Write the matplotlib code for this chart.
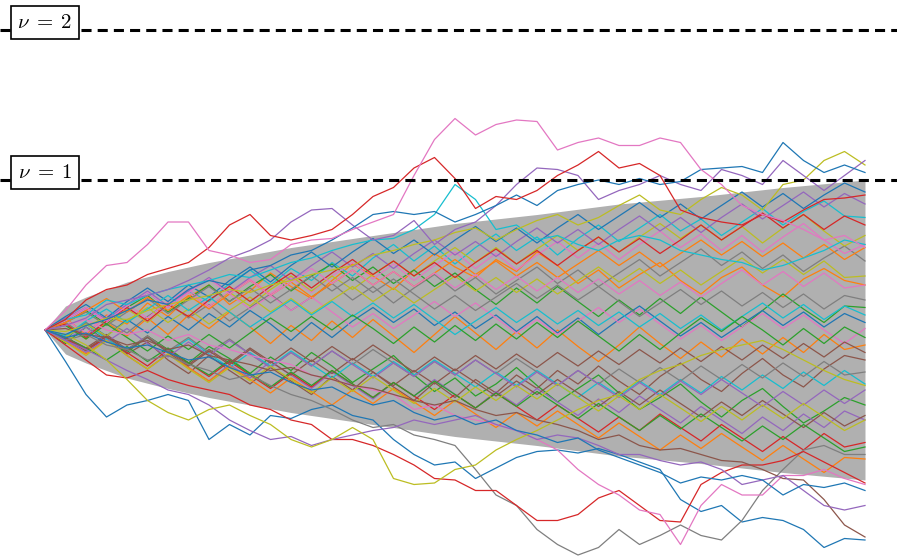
import numpy as np
import matplotlib
matplotlib.use("Agg")
import matplotlib.pyplot as plt

plt.rcParams['mathtext.fontset'] = 'cm'

# sample times of the paths (41 samples on [0, 1])
t = np.arange(41) / 40

# grey band
cone_t = [0, 0.025, 0.05, 0.1, 0.15, 0.2, 0.3, 0.4, 0.5, 0.6, 0.7, 0.8, 0.9, 1.0]
cone_half = [0, 0.16, 0.22, 0.32, 0.39, 0.45, 0.55, 0.63, 0.71, 0.77, 0.84, 0.89, 0.95, 1.0]

levels = [1, 2]
level_labels = [r'$\nu \;=\; 1$', r'$\nu \;=\; 2$']

# outer paths
pink_top = [0, 0.13, 0.30, 0.43, 0.45, 0.57, 0.72, 0.72, 0.53, 0.50, 0.45, 0.47, 0.57, 0.60, 0.61, 0.67, 0.72, 0.77, 1.03, 1.27, 1.41,
            1.30, 1.37, 1.40, 1.39, 1.20, 1.25, 1.28, 1.23, 1.23, 1.28, 1.25, 1.07, 0.97, 0.83, 0.77, 0.73, 0.67, 0.60, 0.63, 0.55]
red_upper = [0, 0.07, 0.20, 0.27, 0.30, 0.37, 0.41, 0.45, 0.55, 0.70, 0.77, 0.63, 0.60, 0.63, 0.67, 0.77, 0.89, 0.95, 1.08, 1.15, 1.01,
             0.81, 0.89, 0.87, 0.93, 1.03, 1.10, 1.19, 1.08, 1.11, 1.03, 0.80, 0.75, 0.72, 0.70, 0.77, 0.72, 0.80, 0.87, 0.88, 0.90]
blue_upper = [0, -0.03, 0.03, 0.07, 0.13, 0.20, 0.17, 0.27, 0.33, 0.30, 0.40, 0.43, 0.50, 0.53, 0.60, 0.68, 0.77, 0.79, 0.77, 0.79, 0.72,
              0.77, 0.83, 0.90, 0.83, 0.93, 0.97, 1.00, 0.97, 1.01, 0.97, 0.99, 1.07, 1.08, 1.09, 1.05, 1.25, 1.13, 1.05, 1.10, 1.05]
purple_upper = [0, 0.03, 0.08, 0.17, 0.20, 0.23, 0.27, 0.33, 0.40, 0.48, 0.53, 0.60, 0.72, 0.80, 0.81, 0.70, 0.60, 0.63, 0.73, 0.57, 0.67,
                0.72, 0.83, 0.97, 1.08, 1.07, 1.03, 0.87, 0.93, 0.97, 1.03, 0.97, 0.93, 1.07, 1.03, 0.97, 1.13, 1.03, 0.93, 1.03, 1.13]
olive_upper = [0, -0.01, 0.03, 0.08, 0.07, 0.13, 0.17, 0.20, 0.23, 0.27, 0.25, 0.30, 0.33, 0.37, 0.40, 0.43, 0.50, 0.53, 0.57, 0.60, 0.65,
               0.68, 0.60, 0.67, 0.73, 0.77, 0.70, 0.75, 0.83, 0.90, 0.80, 0.77, 0.87, 0.95, 0.90, 0.80, 0.97, 1.00, 1.13, 1.19, 1.10]
cyan_upper = [0, 0.07, 0.10, 0.20, 0.17, 0.23, 0.27, 0.30, 0.33, 0.37, 0.35, 0.40, 0.45, 0.48, 0.53, 0.57, 0.60, 0.61, 0.67, 0.77, 0.97,
              0.87, 0.67, 0.70, 0.60, 0.63, 0.57, 0.53, 0.60, 0.63, 0.60, 0.53, 0.50, 0.47, 0.45, 0.40, 0.43, 0.48, 0.53, 0.60, 0.57]
blue_lower = [0, -0.21, -0.43, -0.58, -0.50, -0.47, -0.43, -0.47, -0.73, -0.63, -0.70, -0.57, -0.59, -0.53, -0.50, -0.57, -0.60, -0.73, -0.83, -0.90, -0.88,
              -0.99, -0.92, -0.85, -0.81, -0.80, -0.82, -0.79, -0.83, -0.88, -0.93, -1.13, -1.21, -1.17, -1.28, -1.25, -1.27, -1.33, -1.45, -1.39, -1.40]
gray_lower = [0, -0.07, -0.03, -0.10, -0.13, -0.20, -0.17, -0.23, -0.27, -0.33, -0.30, -0.37, -0.43, -0.47, -0.53, -0.60, -0.65, -0.63, -0.70, -0.73, -0.77,
              -0.93, -1.10, -1.17, -1.33, -1.43, -1.50, -1.45, -1.33, -1.43, -1.37, -1.30, -1.37, -1.40, -1.27, -1.07, -0.93, -0.80, -0.77, -0.83, -0.83]
red_lower = [0, -0.10, -0.20, -0.30, -0.32, -0.27, -0.33, -0.37, -0.40, -0.43, -0.50, -0.53, -0.60, -0.63, -0.73, -0.73, -0.77, -0.83, -0.90, -0.99, -1.00,
             -1.07, -1.07, -1.17, -1.27, -1.27, -1.23, -1.12, -1.07, -1.17, -1.27, -1.28, -1.03, -0.95, -0.90, -0.90, -0.87, -0.81, -0.88, -0.95, -1.02]
pink_lower = [0, 0.03, 0.07, 0, -0.03, 0, -0.07, -0.03, -0.10, -0.13, -0.17, -0.20, -0.23, -0.30, -0.33, -0.37, -0.40, -0.43, -0.53, -0.50, -0.57,
              -0.60, -0.63, -0.67, -0.73, -0.80, -0.93, -1.03, -1.10, -1.20, -1.23, -1.43, -1.17, -1.03, -1.10, -1.10, -0.97, -0.97, -0.93, -0.99, -1.03]
brown_lower = [0, 0.01, -0.03, -0.05, -0.10, -0.07, -0.13, -0.10, -0.17, -0.20, -0.23, -0.27, -0.25, -0.30, -0.33, -0.37, -0.39, -0.43, -0.47, -0.50, -0.47,
               -0.53, -0.57, -0.55, -0.60, -0.63, -0.67, -0.73, -0.70, -0.77, -0.80, -0.79, -0.83, -0.87, -0.88, -0.93, -0.99, -1.00, -1.13, -1.30, -1.38]
purple_lower = [0, -0.07, -0.13, -0.20, -0.27, -0.33, -0.40, -0.43, -0.50, -0.60, -0.67, -0.73, -0.71, -0.77, -0.73, -0.70, -0.67, -0.65, -0.60, -0.63, -0.60,
                -0.57, -0.63, -0.67, -0.73, -0.70, -0.72, -0.77, -0.83, -0.83, -0.87, -0.90, -0.88, -0.93, -1.03, -1.00, -0.97, -1.07, -1.17, -1.20, -1.17]
olive_lower = [0, -0.03, -0.10, -0.20, -0.33, -0.47, -0.55, -0.60, -0.53, -0.50, -0.57, -0.63, -0.73, -0.78, -0.73, -0.65, -0.73, -0.99, -1.03, -1.02, -0.93,
               -0.90, -0.80, -0.73, -0.67, -0.60, -0.53, -0.47, -0.43, -0.33, -0.27, -0.23, -0.17, -0.13, -0.10, -0.07, -0.13, -0.20, -0.27, -0.33, -0.37]
blue_end = [0, -0.05, -0.02, -0.08, -0.12, -0.10, -0.15, -0.20, -0.18, -0.25, -0.30, -0.28, -0.35, -0.40, -0.38, -0.45, -0.50, -0.47, -0.55, -0.60, -0.57,
            -0.63, -0.60, -0.67, -0.70, -0.75, -0.72, -0.80, -0.85, -0.90, -0.95, -1.02, -0.98, -1.00, -0.97, -1.00, -1.10, -1.03, -1.05, -1.02, -1.07]

# paths inside the grey band (estimated)
inner_paths = [
    [0, 0.08, -0.03, 0.10, 0.04, 0.18, 0.09, 0.22, 0.30, 0.17, 0.26, 0.38, 0.29, 0.21, 0.33, 0.44, 0.36, 0.27, 0.40, 0.51, 0.42,
     0.35, 0.47, 0.39, 0.52, 0.43, 0.31, 0.40, 0.28, 0.37, 0.45, 0.33, 0.24, 0.35, 0.42, 0.30, 0.22, 0.34, 0.41, 0.33, 0.30],
    [0, -0.09, 0.02, -0.07, -0.15, -0.04, -0.13, -0.22, -0.11, -0.19, -0.29, -0.18, -0.27, -0.15, -0.24, -0.35, -0.26, -0.17, -0.30, -0.41, -0.32,
     -0.44, -0.36, -0.25, -0.37, -0.48, -0.39, -0.30, -0.42, -0.53, -0.45, -0.36, -0.48, -0.58, -0.47, -0.39, -0.51, -0.62, -0.54, -0.45, -0.50],
    [0, 0.07, 0.14, 0.05, 0.16, 0.25, 0.15, 0.26, 0.19, 0.31, 0.40, 0.30, 0.41, 0.33, 0.45, 0.36, 0.48, 0.57, 0.46, 0.56, 0.44,
     0.55, 0.64, 0.53, 0.62, 0.50, 0.61, 0.70, 0.59, 0.68, 0.77, 0.66, 0.74, 0.63, 0.72, 0.81, 0.70, 0.79, 0.86, 0.76, 0.75],
    [0, -0.06, -0.14, -0.05, -0.16, -0.08, -0.20, -0.29, -0.17, -0.27, -0.36, -0.25, -0.34, -0.43, -0.31, -0.40, -0.28, -0.38, -0.47, -0.35, -0.45,
     -0.33, -0.42, -0.30, -0.39, -0.27, -0.36, -0.24, -0.34, -0.43, -0.31, -0.22, -0.33, -0.41, -0.29, -0.19, -0.30, -0.38, -0.26, -0.17, -0.20],
    [0, 0.05, -0.04, 0.06, -0.02, 0.09, 0.18, 0.08, 0.17, 0.06, 0.15, 0.24, 0.13, 0.22, 0.31, 0.20, 0.29, 0.18, 0.28, 0.37, 0.26,
     0.35, 0.24, 0.33, 0.42, 0.31, 0.40, 0.29, 0.38, 0.47, 0.36, 0.45, 0.54, 0.43, 0.52, 0.41, 0.50, 0.39, 0.48, 0.56, 0.46],
    [0, -0.07, -0.15, -0.06, -0.17, -0.26, -0.16, -0.25, -0.34, -0.23, -0.32, -0.21, -0.30, -0.39, -0.28, -0.37, -0.46, -0.35, -0.44, -0.33, -0.43,
     -0.52, -0.41, -0.50, -0.39, -0.48, -0.57, -0.46, -0.55, -0.44, -0.53, -0.62, -0.51, -0.60, -0.69, -0.58, -0.67, -0.56, -0.65, -0.54, -0.60],
    [0, 0.04, -0.06, 0.05, -0.04, 0.08, -0.03, 0.10, 0.01, 0.12, 0.02, -0.09, 0.03, -0.07, 0.06, -0.05, 0.07, -0.04, -0.15, -0.03, 0.09,
     -0.02, -0.13, -0.01, -0.12, 0.00, -0.11, -0.21, -0.10, 0.02, -0.09, -0.19, -0.08, -0.18, -0.06, -0.16, -0.05, -0.15, -0.03, -0.13, -0.10],
    [0, 0.06, 0.13, 0.04, 0.15, 0.23, 0.12, 0.21, 0.30, 0.19, 0.29, 0.37, 0.26, 0.36, 0.44, 0.33, 0.42, 0.31, 0.40, 0.29, 0.38,
     0.27, 0.17, 0.28, 0.18, 0.29, 0.19, 0.09, 0.20, 0.10, 0.21, 0.11, 0.22, 0.12, 0.02, 0.13, 0.24, 0.14, 0.05, 0.16, 0.15],
    [0, 0.07, -0.02, 0.09, 0.17, 0.08, 0.19, 0.27, 0.16, 0.26, 0.34, 0.24, 0.35, 0.25, 0.36, 0.45, 0.34, 0.44, 0.33, 0.43, 0.52,
     0.41, 0.51, 0.40, 0.50, 0.59, 0.48, 0.58, 0.47, 0.57, 0.66, 0.55, 0.64, 0.53, 0.63, 0.52, 0.62, 0.71, 0.60, 0.51, 0.57],
    [0, -0.06, -0.13, -0.05, -0.15, -0.24, -0.13, -0.22, -0.31, -0.21, -0.30, -0.39, -0.29, -0.38, -0.27, -0.36, -0.45, -0.35, -0.44, -0.53, -0.43,
     -0.52, -0.42, -0.51, -0.60, -0.50, -0.59, -0.68, -0.58, -0.67, -0.56, -0.65, -0.74, -0.63, -0.72, -0.81, -0.71, -0.80, -0.69, -0.78, -0.75],
    [0, 0.05, 0.12, 0.03, 0.14, 0.05, 0.16, 0.25, 0.15, 0.25, 0.16, 0.27, 0.36, 0.26, 0.36, 0.27, 0.37, 0.46, 0.36, 0.46, 0.55,
     0.45, 0.55, 0.44, 0.54, 0.63, 0.53, 0.62, 0.52, 0.62, 0.71, 0.61, 0.70, 0.60, 0.69, 0.58, 0.68, 0.77, 0.66, 0.56, 0.63],
    [0, -0.05, 0.04, -0.06, -0.14, -0.05, -0.15, -0.06, -0.16, -0.25, -0.15, -0.24, -0.14, -0.23, -0.32, -0.22, -0.31, -0.21, -0.30, -0.20, -0.29,
     -0.38, -0.28, -0.37, -0.27, -0.36, -0.45, -0.35, -0.44, -0.34, -0.43, -0.33, -0.42, -0.31, -0.40, -0.30, -0.39, -0.28, -0.37, -0.27, -0.36],
    [0, -0.06, 0.05, -0.04, 0.07, -0.02, 0.09, 0.00, 0.11, 0.02, 0.13, 0.04, -0.07, 0.05, -0.05, 0.06, 0.15, 0.05, 0.14, 0.03, 0.12,
     0.01, 0.10, -0.01, 0.09, -0.02, 0.08, -0.03, 0.07, 0.16, 0.06, -0.04, 0.05, -0.05, 0.04, 0.13, 0.03, 0.12, 0.02, 0.11, 0.05],
    [0, -0.05, -0.12, -0.03, -0.13, -0.04, -0.14, -0.23, -0.13, -0.22, -0.12, -0.21, -0.30, -0.20, -0.29, -0.19, -0.28, -0.37, -0.27, -0.36, -0.26,
     -0.35, -0.44, -0.34, -0.43, -0.33, -0.42, -0.51, -0.41, -0.50, -0.40, -0.49, -0.58, -0.48, -0.57, -0.47, -0.56, -0.65, -0.55, -0.64, -0.57],
    [0, 0.08, 0.15, 0.07, 0.17, 0.26, 0.16, 0.26, 0.35, 0.25, 0.35, 0.43, 0.33, 0.43, 0.52, 0.42, 0.51, 0.41, 0.51, 0.60, 0.50,
     0.59, 0.49, 0.59, 0.68, 0.58, 0.67, 0.57, 0.67, 0.76, 0.66, 0.75, 0.65, 0.75, 0.84, 0.74, 0.83, 0.92, 0.82, 0.91, 0.84],
    [0, -0.04, 0.05, -0.05, -0.13, -0.04, -0.14, -0.05, -0.15, -0.06, -0.16, -0.25, -0.15, -0.24, -0.14, -0.23, -0.13, -0.22, -0.31, -0.21, -0.30,
     -0.20, -0.29, -0.19, -0.28, -0.37, -0.27, -0.36, -0.26, -0.35, -0.25, -0.34, -0.24, -0.33, -0.23, -0.32, -0.22, -0.31, -0.21, -0.30, -0.28],
    [0, -0.08, -0.16, -0.07, -0.17, -0.26, -0.16, -0.25, -0.34, -0.24, -0.33, -0.42, -0.32, -0.41, -0.50, -0.40, -0.49, -0.39, -0.48, -0.57, -0.47,
     -0.56, -0.65, -0.55, -0.64, -0.54, -0.63, -0.72, -0.62, -0.71, -0.80, -0.70, -0.79, -0.69, -0.78, -0.87, -0.77, -0.86, -0.95, -0.85, -0.86],
    [0, -0.05, -0.12, -0.20, -0.11, -0.21, -0.12, -0.22, -0.30, -0.20, -0.29, -0.38, -0.28, -0.37, -0.27, -0.36, -0.45, -0.35, -0.44, -0.34, -0.43,
     -0.52, -0.42, -0.51, -0.41, -0.50, -0.59, -0.49, -0.58, -0.67, -0.57, -0.66, -0.56, -0.65, -0.74, -0.64, -0.73, -0.63, -0.72, -0.81, -0.78],
    [0, 0.06, 0.14, 0.05, 0.15, 0.06, 0.16, 0.25, 0.15, 0.24, 0.14, 0.23, 0.13, 0.22, 0.12, 0.02, 0.11, 0.01, 0.10, 0.19, 0.09,
     0.18, 0.08, -0.02, 0.07, -0.03, 0.06, 0.15, 0.05, 0.14, 0.04, -0.06, 0.03, -0.07, 0.02, 0.11, 0.01, 0.10, 0.00, -0.09, 0.01],
    [0, -0.05, 0.04, -0.04, 0.06, 0.15, 0.05, 0.14, 0.04, 0.13, 0.22, 0.12, 0.21, 0.11, 0.20, 0.29, 0.19, 0.28, 0.18, 0.27, 0.36,
     0.26, 0.35, 0.25, 0.34, 0.24, 0.33, 0.42, 0.32, 0.41, 0.31, 0.40, 0.30, 0.39, 0.48, 0.38, 0.47, 0.37, 0.46, 0.35, 0.36],
    [0, 0.09, 0.17, 0.08, 0.19, 0.28, 0.19, 0.30, 0.22, 0.33, 0.42, 0.32, 0.43, 0.52, 0.42, 0.52, 0.61, 0.51, 0.60, 0.50, 0.60,
     0.69, 0.59, 0.68, 0.58, 0.68, 0.77, 0.67, 0.76, 0.85, 0.75, 0.84, 0.74, 0.83, 0.92, 0.82, 0.91, 0.81, 0.90, 0.98, 0.92],
    [0, 0.04, -0.05, 0.06, 0.15, 0.06, 0.17, 0.09, 0.20, 0.29, 0.19, 0.29, 0.38, 0.28, 0.38, 0.47, 0.37, 0.46, 0.36, 0.45, 0.35,
     0.45, 0.54, 0.44, 0.53, 0.43, 0.53, 0.62, 0.52, 0.61, 0.51, 0.60, 0.70, 0.60, 0.69, 0.78, 0.68, 0.77, 0.67, 0.76, 0.70],
    [0, 0.05, 0.12, 0.03, 0.12, 0.21, 0.11, 0.20, 0.29, 0.19, 0.28, 0.18, 0.27, 0.36, 0.26, 0.35, 0.25, 0.34, 0.24, 0.14, 0.23,
     0.13, 0.22, 0.31, 0.21, 0.30, 0.20, 0.29, 0.19, 0.09, 0.18, 0.27, 0.17, 0.26, 0.16, 0.25, 0.15, 0.24, 0.14, 0.23, 0.20],
    [0, -0.04, 0.06, 0.14, 0.05, 0.14, 0.23, 0.13, 0.22, 0.12, 0.02, 0.11, 0.20, 0.10, 0.19, 0.09, 0.18, 0.08, 0.17, 0.07, -0.03,
     0.06, 0.15, 0.05, 0.14, 0.04, 0.13, 0.03, 0.12, 0.02, 0.11, 0.01, 0.10, 0.00, 0.09, 0.18, 0.08, 0.17, 0.07, 0.16, 0.10],
    [0, -0.07, 0.02, -0.08, 0.01, -0.09, -0.18, -0.08, -0.17, -0.07, -0.16, -0.25, -0.15, -0.24, -0.14, -0.23, -0.32, -0.22, -0.31, -0.21, -0.30,
     -0.20, -0.29, -0.38, -0.28, -0.37, -0.27, -0.36, -0.45, -0.35, -0.44, -0.34, -0.43, -0.33, -0.42, -0.51, -0.41, -0.50, -0.40, -0.49, -0.40],
    [0, 0.05, 0.13, 0.21, 0.12, 0.22, 0.13, 0.23, 0.14, 0.24, 0.33, 0.23, 0.32, 0.22, 0.31, 0.40, 0.30, 0.39, 0.29, 0.38, 0.47,
     0.37, 0.46, 0.36, 0.45, 0.35, 0.44, 0.53, 0.43, 0.52, 0.42, 0.51, 0.60, 0.50, 0.59, 0.49, 0.58, 0.48, 0.57, 0.47, 0.55],
    [0, 0.03, -0.06, 0.04, -0.05, -0.14, -0.04, -0.13, -0.03, -0.12, -0.02, 0.08, -0.01, 0.09, 0.00, 0.10, 0.01, -0.09, 0.02, -0.08, 0.03,
     -0.07, 0.04, -0.06, 0.05, -0.05, 0.06, -0.04, -0.14, -0.03, -0.13, -0.02, 0.08, -0.01, 0.09, 0.00, -0.10, 0.01, -0.09, 0.02, -0.05],
    [0, -0.05, -0.13, -0.04, -0.14, -0.05, -0.15, -0.24, -0.14, -0.23, -0.13, -0.22, -0.12, -0.21, -0.11, -0.20, -0.10, -0.19, -0.28, -0.18, -0.27,
     -0.17, -0.26, -0.16, -0.25, -0.15, -0.24, -0.14, -0.23, -0.13, -0.22, -0.12, -0.21, -0.11, -0.20, -0.10, -0.19, -0.09, -0.18, -0.08, -0.15],
    [0, 0.07, 0.15, 0.06, 0.16, 0.25, 0.15, 0.25, 0.34, 0.24, 0.33, 0.23, 0.32, 0.41, 0.31, 0.40, 0.30, 0.39, 0.29, 0.38, 0.28,
     0.37, 0.27, 0.36, 0.26, 0.35, 0.25, 0.34, 0.24, 0.33, 0.23, 0.32, 0.22, 0.31, 0.40, 0.30, 0.39, 0.29, 0.38, 0.28, 0.30],
    [0, -0.08, -0.17, -0.07, -0.17, -0.26, -0.16, -0.26, -0.35, -0.25, -0.34, -0.24, -0.33, -0.42, -0.32, -0.41, -0.31, -0.40, -0.49, -0.39, -0.48,
     -0.38, -0.47, -0.37, -0.46, -0.36, -0.45, -0.54, -0.44, -0.53, -0.43, -0.52, -0.61, -0.51, -0.60, -0.50, -0.59, -0.49, -0.58, -0.67, -0.60],
]
inner_colors = ['tab:orange', 'tab:green', 'tab:cyan', 'tab:brown', 'tab:gray', 'tab:purple', 'tab:orange',
                'tab:green', 'tab:pink', 'tab:red', 'tab:olive', 'tab:cyan', 'tab:blue', 'tab:brown',
                'tab:purple', 'tab:gray', 'tab:orange', 'tab:green', 'tab:pink', 'tab:olive',
                'tab:blue', 'tab:red', 'tab:gray', 'tab:cyan', 'tab:purple', 'tab:orange', 'tab:green',
                'tab:brown', 'tab:pink', 'tab:olive']

outer_paths = [blue_lower, gray_lower, red_lower, pink_lower, brown_lower, purple_lower, olive_lower, blue_end,
               cyan_upper, olive_upper, purple_upper, blue_upper, red_upper, pink_top]
outer_colors = ['tab:blue', 'tab:gray', 'tab:red', 'tab:pink', 'tab:brown', 'tab:purple', 'tab:olive', 'tab:blue',
                'tab:cyan', 'tab:olive', 'tab:purple', 'tab:blue', 'tab:red', 'tab:pink']

fig = plt.figure(figsize=(8.97, 5.6), dpi=100)
ax = fig.add_axes([0, 0, 1, 1])

ax.fill_between(cone_t, -np.array(cone_half), cone_half, color='#b0b0b0', lw=0, zorder=1)

for y, c in zip(inner_paths, inner_colors):
    ax.plot(t, y, color=c, lw=0.9, zorder=2)
for y, c in zip(outer_paths, outer_colors):
    ax.plot(t, y, color=c, lw=0.9, zorder=2)

for lev, lab in zip(levels, level_labels):
    ax.axhline(lev, color='black', lw=2.2, dashes=(3.3, 2.0), zorder=3)
    ax.text(0.0, lev + 0.05, lab, fontsize=15, ha='center', va='center', zorder=4,
            bbox=dict(boxstyle='square,pad=0.3', fc='white', ec='black', lw=1.2))

ax.set_xlim(-45 / 820, 1 + 32 / 820)
ax.set_ylim(-230 / 150, 330 / 150)
ax.axis('off')

fig.savefig('out.png', dpi=100)
